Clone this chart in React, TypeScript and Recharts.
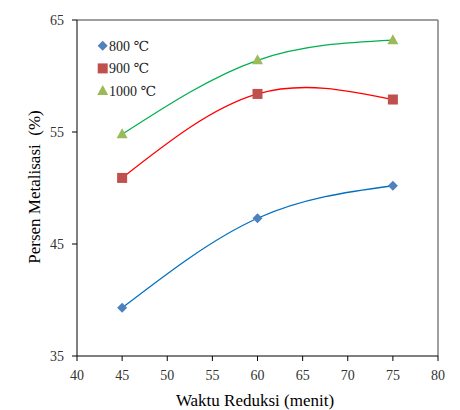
import {
  ComposedChart,
  Line,
  ReferenceLine,
  XAxis,
  YAxis,
} from "recharts";

const times = [45, 60, 75];
const s800 = [39.3, 47.3, 50.2];
const s900 = [50.9, 58.4, 57.9];
const s1000 = [54.8, 61.4, 63.2];
const xTicks = [40, 45, 50, 55, 60, 65, 70, 75, 80];
const yTicks = [35, 45, 55, 65];

const series = [
  { name: "800 ℃", values: s800, line: "#0070C0", marker: "#4F81BD", shape: "diamond" },
  { name: "900 ℃", values: s900, line: "#FF0000", marker: "#C0504D", shape: "square" },
  { name: "1000 ℃", values: s1000, line: "#00B050", marker: "#9BBB59", shape: "triangle" },
];

const FONT = "'Times New Roman', 'Liberation Serif', 'DejaVu Serif', serif";

function Marker({ cx, cy, shape, fill }: any) {
  if (cx == null || cy == null) return null;
  if (shape === "diamond")
    return (
      <polygon
        points={`${cx},${cy - 5} ${cx + 5},${cy} ${cx},${cy + 5} ${cx - 5},${cy}`}
        fill={fill}
      />
    );
  if (shape === "square")
    return <rect x={cx - 5} y={cy - 5} width={10} height={10} fill={fill} />;
  return (
    <polygon
      points={`${cx},${cy - 6} ${cx + 5.5},${cy + 4} ${cx - 5.5},${cy + 4}`}
      fill={fill}
    />
  );
}

function XTick({ x, y, payload }: any) {
  return (
    <text x={x} y={y + 12} dy="0.35em" textAnchor="middle" fontSize={14} fontFamily={FONT} fill="#333">
      {payload.value}
    </text>
  );
}

function YTick({ x, y, payload }: any) {
  return (
    <text x={x - 6} y={y} dy="0.35em" textAnchor="end" fontSize={14} fontFamily={FONT} fill="#333">
      {payload.value}
    </text>
  );
}

export default function App() {
  const data = series.map((s) =>
    times.map((t, i) => ({ x: t, y: s.values[i] }))
  );

  return (
    <div
      style={{
        position: "absolute",
        left: 0,
        top: 0,
        width: 460,
        height: 410,
        background: "#fff",
        fontFamily: FONT,
      }}
    >
      <ComposedChart
        width={460}
        height={410}
        margin={{ top: 20, right: 22, bottom: 24, left: 0 }}
        style={{ fontFamily: FONT }}
      >
        <XAxis
          type="number"
          dataKey="x"
          domain={[40, 80]}
          ticks={xTicks}
          interval={0}
          height={30}
          tickSize={5}
          stroke="#000"
          tick={<XTick />}
          allowDuplicatedCategory={false}
        />
        <YAxis
          type="number"
          dataKey="y"
          domain={[35, 65]}
          ticks={yTicks}
          interval={0}
          width={77}
          tickSize={5}
          stroke="#000"
          tick={<YTick />}
        />
        <ReferenceLine y={65} stroke="#7f7f7f" strokeWidth={1.5} />
        <ReferenceLine x={80} stroke="#7f7f7f" strokeWidth={1.5} />
        {series.map((s, k) => (
          <Line
            key={s.name}
            data={data[k]}
            dataKey="y"
            type="natural"
            stroke={s.line}
            strokeWidth={1.3}
            isAnimationActive={false}
            dot={(p: any) => (
              <Marker key={p.index} cx={p.cx} cy={p.cy} shape={s.shape} fill={s.marker} />
            )}
            activeDot={false}
          />
        ))}
      </ComposedChart>

      <svg
        width={120}
        height={80}
        style={{ position: "absolute", left: 90, top: 30 }}
      >
        {series.map((s, i) => (
          <g key={s.name}>
            <Marker cx={12.7} cy={15.7 + i * 22.7} shape={s.shape} fill={s.marker} />
            <text
              x={19}
              y={15.7 + i * 22.7}
              dy="0.35em"
              fontSize={14}
              fontFamily={FONT}
              fill="#222"
            >
              {s.name}
            </text>
          </g>
        ))}
      </svg>

      <div
        style={{
          position: "absolute",
          left: 35,
          top: 187,
          transform: "translate(-50%, -50%) rotate(-90deg)",
          fontSize: 17,
          whiteSpace: "pre",
          color: "#000",
        }}
      >
        Persen Metalisasi  (%)
      </div>
      <div
        style={{
          position: "absolute",
          left: 255,
          top: 401,
          transform: "translate(-50%, -50%)",
          fontSize: 17,
          whiteSpace: "pre",
          color: "#000",
        }}
      >
        Waktu Reduksi (menit)
      </div>
    </div>
  );
}
